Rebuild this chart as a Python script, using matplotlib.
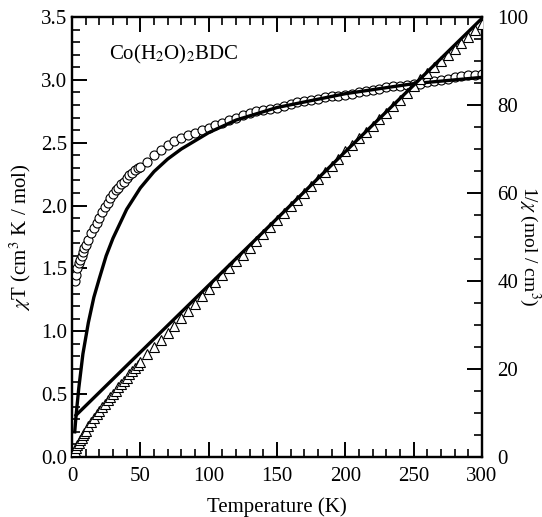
#%%
# Co(H2O)2BDC: chi*T and 1/chi versus temperature, with fit lines
import numpy as np
import matplotlib.pyplot as plt
from matplotlib.ticker import MultipleLocator

plt.rcParams['font.family'] = ['Liberation Serif', 'DejaVu Serif']
plt.rcParams['mathtext.fontset'] = 'stix'

# Measured temperatures (K)
temps = [2, 3, 4, 5, 6, 7, 8, 9, 10, 12, 14, 16, 18, 20, 22, 24, 26, 28, 30,
         32, 34, 36, 38, 40, 42, 44, 46, 48, 50, 55, 60, 65, 70, 75, 80, 85,
         90, 95, 100, 105, 110, 115, 120, 125, 130, 135, 140, 145, 150, 155,
         160, 165, 170, 175, 180, 185, 190, 195, 200, 205, 210, 215, 220, 225,
         230, 235, 240, 245, 250, 255, 260, 265, 270, 275, 280, 285, 290, 295,
         300]

# chi*T data (cm3 K / mol), open circles
chiT = [1.40, 1.45, 1.50, 1.54, 1.57, 1.60, 1.63, 1.66, 1.69, 1.73, 1.78,
        1.82, 1.86, 1.90, 1.95, 1.99, 2.02, 2.06, 2.09, 2.12, 2.14, 2.17,
        2.19, 2.22, 2.24, 2.26, 2.28, 2.30, 2.31, 2.35, 2.40, 2.44, 2.48,
        2.51, 2.54, 2.56, 2.58, 2.60, 2.62, 2.64, 2.66, 2.68, 2.70, 2.72,
        2.74, 2.75, 2.76, 2.77, 2.78, 2.79, 2.81, 2.82, 2.83, 2.84, 2.85,
        2.86, 2.87, 2.875, 2.88, 2.89, 2.90, 2.91, 2.92, 2.93, 2.94, 2.95,
        2.955, 2.96, 2.965, 2.97, 2.98, 2.99, 3.00, 3.01, 3.02, 3.03, 3.035,
        3.04, 3.045]

# 1/chi data (mol / cm3), open triangles
inv_chi = [1.43, 2.07, 2.67, 3.25, 3.82, 4.38, 4.91, 5.42, 5.92, 6.94, 7.87,
           8.79, 9.68, 10.53, 11.28, 12.06, 12.87, 13.59, 14.35, 15.09, 15.89,
           16.59, 17.35, 18.02, 18.75, 19.47, 20.18, 20.87, 21.65, 23.40,
           25.00, 26.64, 28.23, 29.88, 31.50, 33.20, 34.88, 36.54, 38.17,
           39.77, 41.35, 42.91, 44.44, 45.96, 47.45, 49.09, 50.72, 52.35,
           53.96, 55.56, 56.94, 58.51, 60.07, 61.62, 63.16, 64.69, 66.20,
           67.83, 69.44, 70.93, 72.41, 73.88, 75.34, 76.79, 78.23, 79.66,
           81.22, 82.77, 84.32, 85.86, 87.25, 88.63, 90.00, 91.36, 92.72,
           94.06, 95.55, 97.04, 98.52]

# Fit curve for chi*T
fit_T = [2, 3, 5, 8, 12, 16, 20, 25, 30, 40, 50, 60, 70, 80, 100, 120, 150,
         200, 250, 300]
fit_chiT = [0.20, 0.33, 0.55, 0.82, 1.07, 1.27, 1.42, 1.60, 1.74, 1.97, 2.14,
            2.27, 2.37, 2.45, 2.58, 2.68, 2.78, 2.89, 2.97, 3.02]

# Curie-Weiss fit line for 1/chi
cw_T = [3, 50, 100, 150, 200, 250, 300]
cw_inv = [9.5, 23.8, 39.0, 54.2, 69.4, 84.5, 99.7]

fig = plt.figure(figsize=(5.42, 5.17), dpi=100)
ax = fig.add_axes([0.1328, 0.1161, 0.7565, 0.8510])
ax2 = ax.twinx()

ax.plot(temps, chiT, 'o', ms=6.5, mfc='white', mec='black', mew=0.8,
        zorder=3)
ax.plot(fit_T, fit_chiT, '-', color='black', lw=2.4, zorder=4)
ax2.plot(temps, inv_chi, '^', ms=6.5, mfc='white', mec='black', mew=0.8,
         zorder=3)
ax2.plot(cw_T, cw_inv, '-', color='black', lw=2.4, zorder=4)

ax.set_xlim(0, 300)
ax.set_ylim(0, 3.5)
ax2.set_ylim(0, 100)

ax.xaxis.set_major_locator(MultipleLocator(50))
ax.xaxis.set_minor_locator(MultipleLocator(10))
ax.yaxis.set_major_locator(MultipleLocator(0.5))
ax.yaxis.set_minor_locator(MultipleLocator(0.1))
ax2.yaxis.set_major_locator(MultipleLocator(20))
ax2.yaxis.set_minor_locator(MultipleLocator(5))
ax.yaxis.set_major_formatter(plt.FormatStrFormatter('%.1f'))

ax.tick_params(axis='both', which='major', direction='in', length=11,
               width=1.4, labelsize=15, top=True, right=False)
ax.tick_params(axis='x', which='major', pad=7)
ax.tick_params(axis='both', which='minor', direction='in', length=6,
               width=1.2, top=True, right=False)
ax2.tick_params(axis='y', which='major', direction='in', length=11,
                width=1.4, labelsize=15, pad=11)
ax2.tick_params(axis='y', which='minor', direction='in', length=6,
                width=1.2)

for a in (ax, ax2):
    for s in a.spines.values():
        s.set_linewidth(1.6)

ax.set_xlabel('Temperature (K)', fontsize=15, labelpad=8)
ax.set_ylabel(r'$\chi$T (cm$^3$ K / mol)', fontsize=15, labelpad=6)
ax2.set_ylabel(r'1/$\chi$ (mol / cm$^3$)', fontsize=14, rotation=270,
               ha='center', va='center')
ax2.yaxis.set_label_coords(1.115, 0.48)

ax.text(0.09, 0.915, r'Co(H$_2$O)$_2$BDC', transform=ax.transAxes,
        fontsize=15, va='center', ha='left')

plt.savefig('out.png', dpi=100)
